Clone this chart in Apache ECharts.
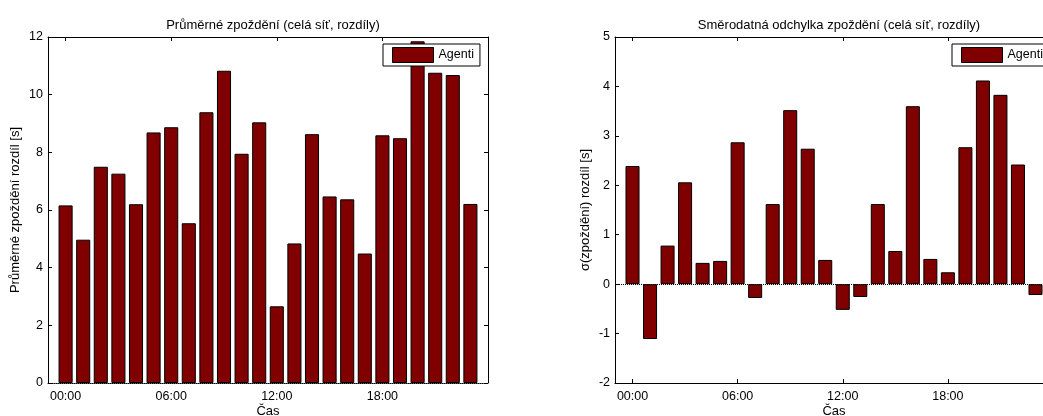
<!DOCTYPE html>
<html>
<head>
<meta charset="UTF-8">
<title>Zpoždění - rozdíly</title>
<script src="https://cdn.jsdelivr.net/npm/echarts@6/dist/echarts.min.js"></script>
<style>
html, body { margin: 0; padding: 0; overflow: hidden; background: #fff; }
#container { width: 1100px; height: 416px; }
</style>
</head>
<body>
<div id="container"></div>
<script>
// data
var hours = ['00:00', '01:00', '02:00', '03:00', '04:00', '05:00', '06:00', '07:00',
             '08:00', '09:00', '10:00', '11:00', '12:00', '13:00', '14:00', '15:00',
             '16:00', '17:00', '18:00', '19:00', '20:00', '21:00', '22:00', '23:00'];
var meanDiff = [6.16, 4.97, 7.50, 7.26, 6.20, 8.69, 8.87, 5.54, 9.39, 10.83, 7.95, 9.04,
                2.66, 4.84, 8.63, 6.47, 6.37, 4.49, 8.59, 8.49, 11.85, 10.76, 10.68, 6.21];
var stdDiff = [2.39, -1.11, 0.78, 2.06, 0.43, 0.47, 2.87, -0.28, 1.62, 3.52, 2.74, 0.49,
               -0.52, -0.26, 1.62, 0.67, 3.60, 0.51, 0.24, 2.77, 4.12, 3.83, 2.42, -0.22];
var seriesName = 'Agenti';
var tickEvery = 6;

// one empty slot each side so the axis runs from -1 to 24
var cats = [''].concat(hours, ['']);
function padVals(v) { return ['-'].concat(v, ['-']); }
function showTick(i) { return i > 0 && i < cats.length - 1 && (i - 1) % tickEvery === 0; }

var font = 'Liberation Sans, Arial, sans-serif';
var barColor = '#800000';

function xAx(grid, pos, dotted) {
    return {
        type: 'category', gridIndex: grid, position: pos, data: cats, boundaryGap: false,
        name: pos === 'bottom' ? 'Čas' : '', nameLocation: 'middle', nameGap: 22,
        nameMoveOverlap: false,
        nameTextStyle: { color: '#000', fontSize: 13, fontFamily: font },
        axisLine: { show: true, onZero: false, lineStyle: { color: '#000', width: 1, type: dotted ? 'dotted' : 'solid' } },
        axisTick: { show: true, inside: true, length: 4, interval: showTick, lineStyle: { color: '#000' } },
        axisLabel: { show: pos === 'bottom', interval: showTick, margin: 7, color: '#000', fontSize: 12.5, fontFamily: font },
        splitLine: { show: false }
    };
}

function yAx(grid, pos, min, max, step, name, gap) {
    return {
        type: 'value', gridIndex: grid, position: pos, min: min, max: max, interval: step,
        name: pos === 'left' ? name : '', nameLocation: 'middle', nameGap: gap,
        nameMoveOverlap: false,
        nameTextStyle: { color: '#000', fontSize: 13, fontFamily: font },
        axisLine: { show: true, onZero: false, lineStyle: { color: '#000', width: 1 } },
        axisTick: { show: true, inside: true, length: 4, lineStyle: { color: '#000' } },
        axisLabel: { show: pos === 'left', margin: 5, color: '#000', fontSize: 12.5, fontFamily: font },
        splitLine: { show: false }
    };
}

function legendAt(x) {
    return {
        left: x, top: 44, data: [{ name: seriesName, icon: 'rect' }], orient: 'vertical',
        backgroundColor: '#fff', borderColor: '#000', borderWidth: 1,
        padding: [3, 6, 3, 9], itemWidth: 41, itemHeight: 15, itemGap: 5,
        selectedMode: false,
        itemStyle: { color: barColor, borderColor: '#000', borderWidth: 1 },
        textStyle: { color: '#000', fontSize: 12.5, fontFamily: font }
    };
}

var myChart = echarts.init(document.getElementById('container'));
var option = {
    animation: false,
    title: [
        { text: 'Průměrné zpoždění (celá síť, rozdíly)', left: 268, top: 14, textAlign: 'center',
          textStyle: { color: '#000', fontSize: 13, fontWeight: 'normal', fontFamily: font } },
        { text: 'Směrodatná odchylka zpoždění (celá síť, rozdíly)', left: 834, top: 14, textAlign: 'center',
          textStyle: { color: '#000', fontSize: 13, fontWeight: 'normal', fontFamily: font } }
    ],
    legend: [legendAt(383), legendAt(952)],
    grid: [
        { left: 48, top: 37, width: 440, height: 346, outerBoundsMode: 'none', containLabel: false },
        { left: 615, top: 37, width: 438, height: 346, outerBoundsMode: 'none', containLabel: false }
    ],
    xAxis: [
        xAx(0, 'bottom', true), xAx(0, 'top', false),
        xAx(1, 'bottom', false), xAx(1, 'top', false)
    ],
    yAxis: [
        yAx(0, 'left', 0, 12, 2, 'Průměrné zpoždění rozdíl [s]', 26), yAx(0, 'right', 0, 12, 2, '', 0),
        yAx(1, 'left', -2, 5, 1, 'σ(zpoždění) rozdíl [s]', 23), yAx(1, 'right', -2, 5, 1, '', 0)
    ],
    series: [
        {
            name: seriesName, type: 'bar', xAxisIndex: 0, yAxisIndex: 0,
            data: padVals(meanDiff), barWidth: '80%',
            itemStyle: { color: barColor, borderColor: '#000', borderWidth: 1 }
        },
        {
            name: seriesName, type: 'bar', xAxisIndex: 2, yAxisIndex: 2,
            data: padVals(stdDiff), barWidth: '80%',
            itemStyle: { color: barColor, borderColor: '#000', borderWidth: 1 },
            markLine: {
                silent: true, symbol: 'none', label: { show: false },
                lineStyle: { color: '#000', type: 'dotted', width: 1 },
                data: [{ yAxis: 0 }]
            }
        }
    ]
};
myChart.setOption(option);
</script>
</body>
</html>
